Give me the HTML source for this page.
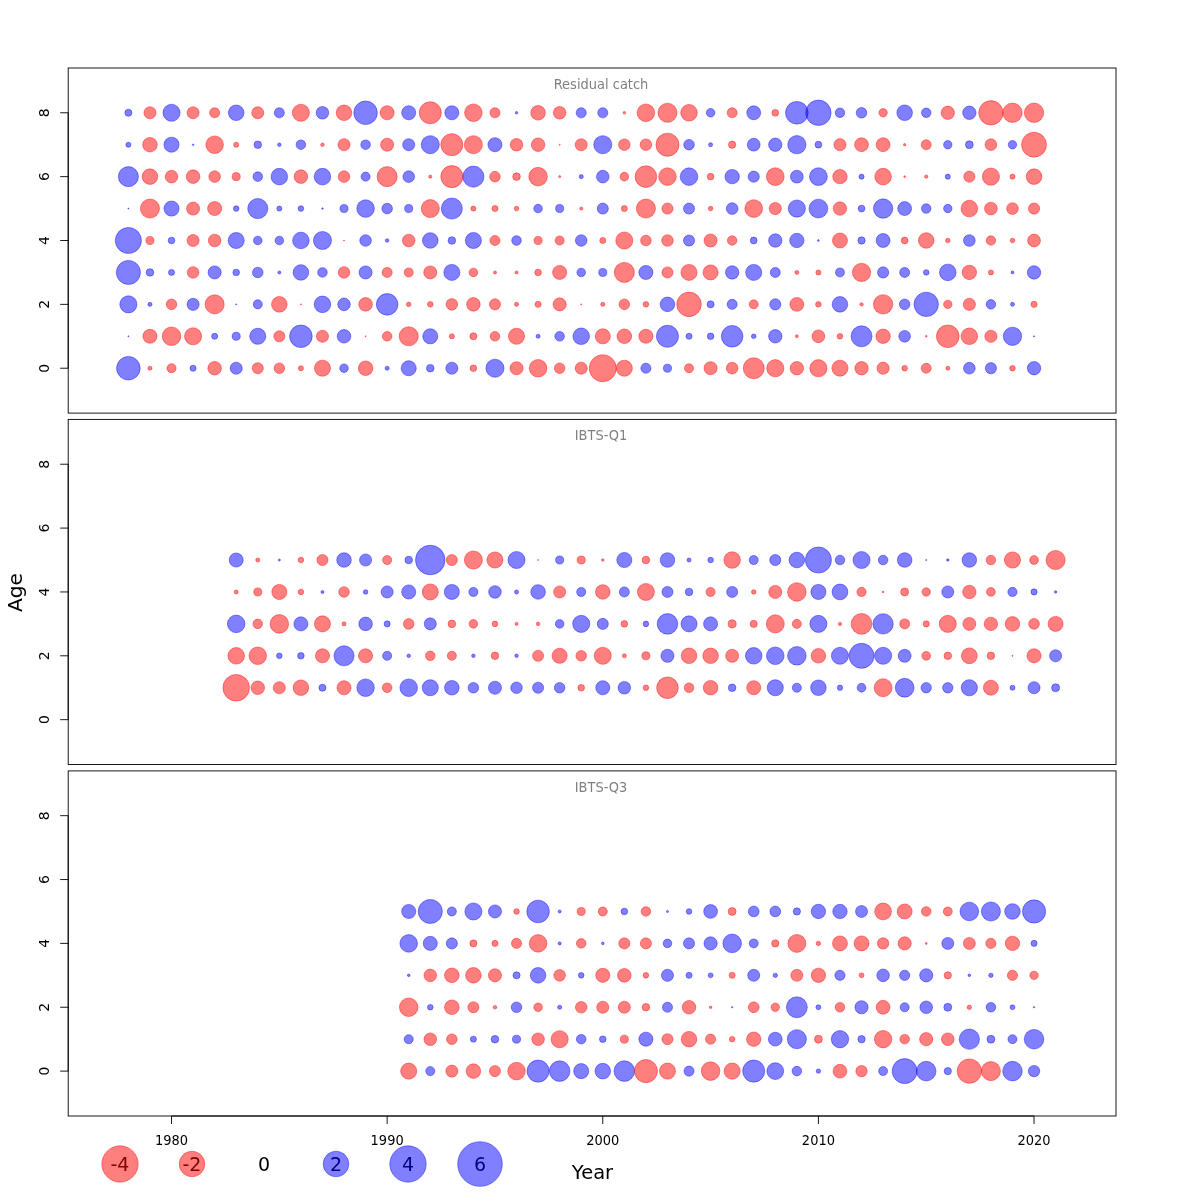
<!DOCTYPE html><html><head><meta charset="utf-8"><title>Residual bubble plot</title><style>html,body{margin:0;padding:0;background:#fff;}svg{display:block;}text{font-family:"DejaVu Sans","Liberation Sans",sans-serif;}</style></head><body>
<svg width="1200" height="1200" viewBox="0 0 1200 1200">
<style>.r{fill:rgba(255,0,0,0.5);stroke:rgba(255,0,0,0.5);stroke-width:0.8}.b{fill:rgba(0,0,255,0.5);stroke:rgba(0,0,255,0.5);stroke-width:0.8}</style>
<rect width="1200" height="1200" fill="#fff"/>
<rect x="68.2" y="68.0" width="1047.8" height="345.1" fill="none" stroke="#000" stroke-width="0.9"/>
<line x1="68.2" y1="112.78" x2="68.2" y2="368.22" stroke="#000" stroke-width="0.9"/>
<line x1="60.2" y1="368.22" x2="68.2" y2="368.22" stroke="#000" stroke-width="0.9"/>
<text transform="translate(49.2,368.22) rotate(-90)" text-anchor="middle" font-size="14">0</text>
<line x1="60.2" y1="304.36" x2="68.2" y2="304.36" stroke="#000" stroke-width="0.9"/>
<text transform="translate(49.2,304.36) rotate(-90)" text-anchor="middle" font-size="14">2</text>
<line x1="60.2" y1="240.50" x2="68.2" y2="240.50" stroke="#000" stroke-width="0.9"/>
<text transform="translate(49.2,240.50) rotate(-90)" text-anchor="middle" font-size="14">4</text>
<line x1="60.2" y1="176.64" x2="68.2" y2="176.64" stroke="#000" stroke-width="0.9"/>
<text transform="translate(49.2,176.64) rotate(-90)" text-anchor="middle" font-size="14">6</text>
<line x1="60.2" y1="112.78" x2="68.2" y2="112.78" stroke="#000" stroke-width="0.9"/>
<text transform="translate(49.2,112.78) rotate(-90)" text-anchor="middle" font-size="14">8</text>
<text transform="translate(601,89.0) scale(0.95,1)" text-anchor="middle" font-size="13.7" fill="#808080">Residual catch</text>
<circle class="b" cx="128.39" cy="112.78" r="3.55"/>
<circle class="r" cx="149.96" cy="112.78" r="6.05"/>
<circle class="b" cx="171.52" cy="112.78" r="8.55"/>
<circle class="r" cx="193.08" cy="112.78" r="6.05"/>
<circle class="r" cx="214.65" cy="112.78" r="5.05"/>
<circle class="b" cx="236.21" cy="112.78" r="7.80"/>
<circle class="r" cx="257.77" cy="112.78" r="6.05"/>
<circle class="b" cx="279.34" cy="112.78" r="5.05"/>
<circle class="r" cx="300.90" cy="112.78" r="8.55"/>
<circle class="b" cx="322.46" cy="112.78" r="6.30"/>
<circle class="r" cx="344.02" cy="112.78" r="7.80"/>
<circle class="b" cx="365.59" cy="112.78" r="11.80"/>
<circle class="r" cx="387.15" cy="112.78" r="7.05"/>
<circle class="b" cx="408.71" cy="112.78" r="7.05"/>
<circle class="r" cx="430.28" cy="112.78" r="11.05"/>
<circle class="b" cx="451.84" cy="112.78" r="7.05"/>
<circle class="r" cx="473.40" cy="112.78" r="8.80"/>
<circle class="r" cx="494.97" cy="112.78" r="5.05"/>
<circle class="b" cx="516.53" cy="112.78" r="1.30"/>
<circle class="r" cx="538.09" cy="112.78" r="7.30"/>
<circle class="r" cx="559.65" cy="112.78" r="6.30"/>
<circle class="b" cx="581.22" cy="112.78" r="5.05"/>
<circle class="b" cx="602.78" cy="112.78" r="5.05"/>
<circle class="r" cx="624.34" cy="112.78" r="1.30"/>
<circle class="r" cx="645.91" cy="112.78" r="8.80"/>
<circle class="r" cx="667.47" cy="112.78" r="9.55"/>
<circle class="r" cx="689.03" cy="112.78" r="8.30"/>
<circle class="b" cx="710.59" cy="112.78" r="4.30"/>
<circle class="r" cx="732.16" cy="112.78" r="5.00"/>
<circle class="b" cx="753.72" cy="112.78" r="6.95"/>
<circle class="r" cx="775.28" cy="112.78" r="3.40"/>
<circle class="b" cx="796.85" cy="112.78" r="11.35"/>
<circle class="b" cx="818.41" cy="112.78" r="12.70"/>
<circle class="b" cx="839.97" cy="112.78" r="4.75"/>
<circle class="b" cx="861.54" cy="112.78" r="5.30"/>
<circle class="r" cx="883.10" cy="112.78" r="4.20"/>
<circle class="b" cx="904.66" cy="112.78" r="7.80"/>
<circle class="b" cx="926.22" cy="112.78" r="4.75"/>
<circle class="r" cx="947.79" cy="112.78" r="6.70"/>
<circle class="b" cx="969.35" cy="112.78" r="6.70"/>
<circle class="r" cx="990.91" cy="112.78" r="12.20"/>
<circle class="r" cx="1012.48" cy="112.78" r="9.70"/>
<circle class="r" cx="1034.04" cy="112.78" r="9.70"/>
<circle class="b" cx="128.39" cy="144.71" r="2.55"/>
<circle class="r" cx="149.96" cy="144.71" r="7.30"/>
<circle class="b" cx="171.52" cy="144.71" r="7.55"/>
<circle class="b" cx="193.08" cy="144.71" r="0.80"/>
<circle class="r" cx="214.65" cy="144.71" r="8.80"/>
<circle class="r" cx="236.21" cy="144.71" r="2.55"/>
<circle class="b" cx="257.77" cy="144.71" r="3.80"/>
<circle class="b" cx="279.34" cy="144.71" r="1.80"/>
<circle class="b" cx="300.90" cy="144.71" r="4.80"/>
<circle class="r" cx="322.46" cy="144.71" r="1.80"/>
<circle class="r" cx="344.02" cy="144.71" r="6.05"/>
<circle class="b" cx="365.59" cy="144.71" r="4.80"/>
<circle class="r" cx="387.15" cy="144.71" r="6.55"/>
<circle class="b" cx="408.71" cy="144.71" r="6.05"/>
<circle class="b" cx="430.28" cy="144.71" r="9.05"/>
<circle class="r" cx="451.84" cy="144.71" r="11.05"/>
<circle class="r" cx="473.40" cy="144.71" r="9.05"/>
<circle class="b" cx="494.97" cy="144.71" r="7.05"/>
<circle class="r" cx="516.53" cy="144.71" r="6.30"/>
<circle class="r" cx="538.09" cy="144.71" r="6.80"/>
<circle class="r" cx="559.65" cy="144.71" r="0.55"/>
<circle class="r" cx="581.22" cy="144.71" r="6.05"/>
<circle class="b" cx="602.78" cy="144.71" r="9.05"/>
<circle class="r" cx="624.34" cy="144.71" r="5.80"/>
<circle class="r" cx="645.91" cy="144.71" r="5.80"/>
<circle class="r" cx="667.47" cy="144.71" r="11.55"/>
<circle class="b" cx="689.03" cy="144.71" r="5.30"/>
<circle class="b" cx="710.59" cy="144.71" r="2.05"/>
<circle class="r" cx="732.16" cy="144.71" r="3.65"/>
<circle class="b" cx="753.72" cy="144.71" r="6.40"/>
<circle class="b" cx="775.28" cy="144.71" r="6.70"/>
<circle class="b" cx="796.85" cy="144.71" r="9.15"/>
<circle class="b" cx="818.41" cy="144.71" r="3.40"/>
<circle class="r" cx="839.97" cy="144.71" r="6.10"/>
<circle class="r" cx="861.54" cy="144.71" r="6.95"/>
<circle class="r" cx="883.10" cy="144.71" r="6.95"/>
<circle class="r" cx="904.66" cy="144.71" r="1.20"/>
<circle class="r" cx="926.22" cy="144.71" r="5.00"/>
<circle class="b" cx="947.79" cy="144.71" r="4.20"/>
<circle class="b" cx="969.35" cy="144.71" r="3.90"/>
<circle class="r" cx="990.91" cy="144.71" r="5.85"/>
<circle class="b" cx="1012.48" cy="144.71" r="4.20"/>
<circle class="r" cx="1034.04" cy="144.71" r="12.45"/>
<circle class="b" cx="128.39" cy="176.64" r="10.05"/>
<circle class="r" cx="149.96" cy="176.64" r="7.80"/>
<circle class="r" cx="171.52" cy="176.64" r="6.30"/>
<circle class="r" cx="193.08" cy="176.64" r="6.80"/>
<circle class="r" cx="214.65" cy="176.64" r="5.80"/>
<circle class="r" cx="236.21" cy="176.64" r="4.05"/>
<circle class="b" cx="257.77" cy="176.64" r="4.80"/>
<circle class="b" cx="279.34" cy="176.64" r="8.30"/>
<circle class="r" cx="300.90" cy="176.64" r="6.80"/>
<circle class="b" cx="322.46" cy="176.64" r="8.30"/>
<circle class="r" cx="344.02" cy="176.64" r="5.80"/>
<circle class="b" cx="365.59" cy="176.64" r="4.55"/>
<circle class="r" cx="387.15" cy="176.64" r="10.05"/>
<circle class="b" cx="408.71" cy="176.64" r="5.80"/>
<circle class="r" cx="430.28" cy="176.64" r="1.55"/>
<circle class="r" cx="451.84" cy="176.64" r="11.05"/>
<circle class="b" cx="473.40" cy="176.64" r="10.55"/>
<circle class="r" cx="494.97" cy="176.64" r="5.30"/>
<circle class="r" cx="516.53" cy="176.64" r="3.80"/>
<circle class="r" cx="538.09" cy="176.64" r="9.30"/>
<circle class="r" cx="559.65" cy="176.64" r="1.05"/>
<circle class="b" cx="581.22" cy="176.64" r="2.05"/>
<circle class="b" cx="602.78" cy="176.64" r="6.30"/>
<circle class="r" cx="624.34" cy="176.64" r="4.30"/>
<circle class="r" cx="645.91" cy="176.64" r="10.80"/>
<circle class="r" cx="667.47" cy="176.64" r="8.80"/>
<circle class="b" cx="689.03" cy="176.64" r="8.80"/>
<circle class="r" cx="710.59" cy="176.64" r="3.30"/>
<circle class="b" cx="732.16" cy="176.64" r="7.20"/>
<circle class="b" cx="753.72" cy="176.64" r="5.60"/>
<circle class="r" cx="775.28" cy="176.64" r="8.90"/>
<circle class="b" cx="796.85" cy="176.64" r="6.40"/>
<circle class="b" cx="818.41" cy="176.64" r="8.90"/>
<circle class="r" cx="839.97" cy="176.64" r="7.20"/>
<circle class="b" cx="861.54" cy="176.64" r="2.55"/>
<circle class="r" cx="883.10" cy="176.64" r="8.30"/>
<circle class="r" cx="904.66" cy="176.64" r="0.90"/>
<circle class="r" cx="926.22" cy="176.64" r="1.70"/>
<circle class="b" cx="947.79" cy="176.64" r="2.55"/>
<circle class="r" cx="969.35" cy="176.64" r="5.60"/>
<circle class="r" cx="990.91" cy="176.64" r="8.60"/>
<circle class="r" cx="1012.48" cy="176.64" r="2.55"/>
<circle class="r" cx="1034.04" cy="176.64" r="7.80"/>
<circle class="b" cx="128.39" cy="208.57" r="0.55"/>
<circle class="r" cx="149.96" cy="208.57" r="9.55"/>
<circle class="b" cx="171.52" cy="208.57" r="7.55"/>
<circle class="r" cx="193.08" cy="208.57" r="6.55"/>
<circle class="r" cx="214.65" cy="208.57" r="7.05"/>
<circle class="b" cx="236.21" cy="208.57" r="2.80"/>
<circle class="b" cx="257.77" cy="208.57" r="10.05"/>
<circle class="b" cx="279.34" cy="208.57" r="2.55"/>
<circle class="b" cx="300.90" cy="208.57" r="2.80"/>
<circle class="b" cx="322.46" cy="208.57" r="0.80"/>
<circle class="b" cx="344.02" cy="208.57" r="4.05"/>
<circle class="b" cx="365.59" cy="208.57" r="8.80"/>
<circle class="b" cx="387.15" cy="208.57" r="5.30"/>
<circle class="b" cx="408.71" cy="208.57" r="4.05"/>
<circle class="r" cx="430.28" cy="208.57" r="9.05"/>
<circle class="b" cx="451.84" cy="208.57" r="10.55"/>
<circle class="r" cx="473.40" cy="208.57" r="2.55"/>
<circle class="r" cx="494.97" cy="208.57" r="3.05"/>
<circle class="r" cx="516.53" cy="208.57" r="2.30"/>
<circle class="b" cx="538.09" cy="208.57" r="4.30"/>
<circle class="b" cx="559.65" cy="208.57" r="4.05"/>
<circle class="r" cx="581.22" cy="208.57" r="1.55"/>
<circle class="b" cx="602.78" cy="208.57" r="5.55"/>
<circle class="r" cx="624.34" cy="208.57" r="3.05"/>
<circle class="r" cx="645.91" cy="208.57" r="9.55"/>
<circle class="r" cx="667.47" cy="208.57" r="5.55"/>
<circle class="b" cx="689.03" cy="208.57" r="5.55"/>
<circle class="r" cx="710.59" cy="208.57" r="2.30"/>
<circle class="b" cx="732.16" cy="208.57" r="5.85"/>
<circle class="r" cx="753.72" cy="208.57" r="8.90"/>
<circle class="r" cx="775.28" cy="208.57" r="6.10"/>
<circle class="b" cx="796.85" cy="208.57" r="8.60"/>
<circle class="b" cx="818.41" cy="208.57" r="9.40"/>
<circle class="r" cx="839.97" cy="208.57" r="6.70"/>
<circle class="b" cx="861.54" cy="208.57" r="3.40"/>
<circle class="b" cx="883.10" cy="208.57" r="9.70"/>
<circle class="b" cx="904.66" cy="208.57" r="6.95"/>
<circle class="b" cx="926.22" cy="208.57" r="4.75"/>
<circle class="b" cx="947.79" cy="208.57" r="4.20"/>
<circle class="r" cx="969.35" cy="208.57" r="8.30"/>
<circle class="r" cx="990.91" cy="208.57" r="6.40"/>
<circle class="r" cx="1012.48" cy="208.57" r="5.85"/>
<circle class="r" cx="1034.04" cy="208.57" r="5.60"/>
<circle class="b" cx="128.39" cy="240.50" r="13.05"/>
<circle class="r" cx="149.96" cy="240.50" r="4.05"/>
<circle class="b" cx="171.52" cy="240.50" r="3.30"/>
<circle class="r" cx="193.08" cy="240.50" r="6.05"/>
<circle class="r" cx="214.65" cy="240.50" r="6.30"/>
<circle class="b" cx="236.21" cy="240.50" r="8.05"/>
<circle class="b" cx="257.77" cy="240.50" r="4.30"/>
<circle class="b" cx="279.34" cy="240.50" r="4.30"/>
<circle class="b" cx="300.90" cy="240.50" r="8.30"/>
<circle class="b" cx="322.46" cy="240.50" r="9.05"/>
<circle class="r" cx="344.02" cy="240.50" r="0.55"/>
<circle class="b" cx="365.59" cy="240.50" r="5.80"/>
<circle class="b" cx="387.15" cy="240.50" r="1.80"/>
<circle class="r" cx="408.71" cy="240.50" r="6.30"/>
<circle class="b" cx="430.28" cy="240.50" r="7.80"/>
<circle class="b" cx="451.84" cy="240.50" r="3.80"/>
<circle class="b" cx="473.40" cy="240.50" r="8.05"/>
<circle class="r" cx="494.97" cy="240.50" r="5.05"/>
<circle class="b" cx="516.53" cy="240.50" r="4.80"/>
<circle class="r" cx="538.09" cy="240.50" r="4.05"/>
<circle class="r" cx="559.65" cy="240.50" r="4.55"/>
<circle class="b" cx="581.22" cy="240.50" r="5.80"/>
<circle class="r" cx="602.78" cy="240.50" r="3.05"/>
<circle class="r" cx="624.34" cy="240.50" r="8.55"/>
<circle class="r" cx="645.91" cy="240.50" r="5.30"/>
<circle class="r" cx="667.47" cy="240.50" r="5.80"/>
<circle class="b" cx="689.03" cy="240.50" r="5.55"/>
<circle class="r" cx="710.59" cy="240.50" r="6.55"/>
<circle class="r" cx="732.16" cy="240.50" r="4.75"/>
<circle class="b" cx="753.72" cy="240.50" r="3.40"/>
<circle class="b" cx="775.28" cy="240.50" r="6.70"/>
<circle class="b" cx="796.85" cy="240.50" r="7.20"/>
<circle class="b" cx="818.41" cy="240.50" r="0.90"/>
<circle class="r" cx="839.97" cy="240.50" r="7.50"/>
<circle class="b" cx="861.54" cy="240.50" r="3.65"/>
<circle class="b" cx="883.10" cy="240.50" r="6.95"/>
<circle class="r" cx="904.66" cy="240.50" r="3.40"/>
<circle class="r" cx="926.22" cy="240.50" r="7.80"/>
<circle class="r" cx="947.79" cy="240.50" r="2.30"/>
<circle class="b" cx="969.35" cy="240.50" r="5.85"/>
<circle class="r" cx="990.91" cy="240.50" r="4.75"/>
<circle class="r" cx="1012.48" cy="240.50" r="2.30"/>
<circle class="r" cx="1034.04" cy="240.50" r="6.40"/>
<circle class="b" cx="128.39" cy="272.43" r="12.05"/>
<circle class="b" cx="149.96" cy="272.43" r="3.80"/>
<circle class="b" cx="171.52" cy="272.43" r="3.05"/>
<circle class="r" cx="193.08" cy="272.43" r="5.80"/>
<circle class="b" cx="214.65" cy="272.43" r="6.55"/>
<circle class="b" cx="236.21" cy="272.43" r="3.30"/>
<circle class="b" cx="257.77" cy="272.43" r="5.30"/>
<circle class="b" cx="279.34" cy="272.43" r="1.55"/>
<circle class="b" cx="300.90" cy="272.43" r="7.80"/>
<circle class="b" cx="322.46" cy="272.43" r="4.80"/>
<circle class="r" cx="344.02" cy="272.43" r="5.80"/>
<circle class="b" cx="365.59" cy="272.43" r="6.55"/>
<circle class="r" cx="387.15" cy="272.43" r="5.05"/>
<circle class="r" cx="408.71" cy="272.43" r="4.55"/>
<circle class="r" cx="430.28" cy="272.43" r="6.55"/>
<circle class="b" cx="451.84" cy="272.43" r="8.05"/>
<circle class="r" cx="473.40" cy="272.43" r="4.30"/>
<circle class="r" cx="494.97" cy="272.43" r="1.55"/>
<circle class="r" cx="516.53" cy="272.43" r="1.55"/>
<circle class="r" cx="538.09" cy="272.43" r="3.30"/>
<circle class="r" cx="559.65" cy="272.43" r="7.05"/>
<circle class="b" cx="581.22" cy="272.43" r="4.30"/>
<circle class="b" cx="602.78" cy="272.43" r="4.05"/>
<circle class="r" cx="624.34" cy="272.43" r="10.05"/>
<circle class="b" cx="645.91" cy="272.43" r="7.05"/>
<circle class="r" cx="667.47" cy="272.43" r="5.55"/>
<circle class="r" cx="689.03" cy="272.43" r="8.05"/>
<circle class="r" cx="710.59" cy="272.43" r="7.55"/>
<circle class="b" cx="732.16" cy="272.43" r="6.70"/>
<circle class="b" cx="753.72" cy="272.43" r="8.05"/>
<circle class="b" cx="775.28" cy="272.43" r="5.00"/>
<circle class="r" cx="796.85" cy="272.43" r="2.00"/>
<circle class="r" cx="818.41" cy="272.43" r="2.55"/>
<circle class="b" cx="839.97" cy="272.43" r="4.50"/>
<circle class="r" cx="861.54" cy="272.43" r="9.15"/>
<circle class="b" cx="883.10" cy="272.43" r="5.60"/>
<circle class="b" cx="904.66" cy="272.43" r="5.00"/>
<circle class="b" cx="926.22" cy="272.43" r="2.80"/>
<circle class="b" cx="947.79" cy="272.43" r="8.30"/>
<circle class="r" cx="969.35" cy="272.43" r="7.20"/>
<circle class="r" cx="990.91" cy="272.43" r="2.55"/>
<circle class="b" cx="1012.48" cy="272.43" r="1.45"/>
<circle class="b" cx="1034.04" cy="272.43" r="6.70"/>
<circle class="b" cx="128.39" cy="304.36" r="8.55"/>
<circle class="b" cx="149.96" cy="304.36" r="2.05"/>
<circle class="r" cx="171.52" cy="304.36" r="5.30"/>
<circle class="b" cx="193.08" cy="304.36" r="6.05"/>
<circle class="r" cx="214.65" cy="304.36" r="9.55"/>
<circle class="b" cx="236.21" cy="304.36" r="0.55"/>
<circle class="b" cx="257.77" cy="304.36" r="4.55"/>
<circle class="r" cx="279.34" cy="304.36" r="7.80"/>
<circle class="r" cx="300.90" cy="304.36" r="0.55"/>
<circle class="b" cx="322.46" cy="304.36" r="8.30"/>
<circle class="b" cx="344.02" cy="304.36" r="6.30"/>
<circle class="r" cx="365.59" cy="304.36" r="6.80"/>
<circle class="b" cx="387.15" cy="304.36" r="10.80"/>
<circle class="r" cx="408.71" cy="304.36" r="2.30"/>
<circle class="r" cx="430.28" cy="304.36" r="2.80"/>
<circle class="r" cx="451.84" cy="304.36" r="5.80"/>
<circle class="r" cx="473.40" cy="304.36" r="6.80"/>
<circle class="r" cx="494.97" cy="304.36" r="5.55"/>
<circle class="r" cx="516.53" cy="304.36" r="2.05"/>
<circle class="r" cx="538.09" cy="304.36" r="3.05"/>
<circle class="r" cx="559.65" cy="304.36" r="6.55"/>
<circle class="r" cx="581.22" cy="304.36" r="0.55"/>
<circle class="r" cx="602.78" cy="304.36" r="2.05"/>
<circle class="r" cx="624.34" cy="304.36" r="5.30"/>
<circle class="r" cx="645.91" cy="304.36" r="2.80"/>
<circle class="b" cx="667.47" cy="304.36" r="7.30"/>
<circle class="r" cx="689.03" cy="304.36" r="12.30"/>
<circle class="b" cx="710.59" cy="304.36" r="3.55"/>
<circle class="b" cx="732.16" cy="304.36" r="5.00"/>
<circle class="r" cx="753.72" cy="304.36" r="4.50"/>
<circle class="b" cx="775.28" cy="304.36" r="5.60"/>
<circle class="r" cx="796.85" cy="304.36" r="6.95"/>
<circle class="r" cx="818.41" cy="304.36" r="2.80"/>
<circle class="b" cx="839.97" cy="304.36" r="7.80"/>
<circle class="r" cx="861.54" cy="304.36" r="1.70"/>
<circle class="r" cx="883.10" cy="304.36" r="9.70"/>
<circle class="b" cx="904.66" cy="304.36" r="5.30"/>
<circle class="b" cx="926.22" cy="304.36" r="12.20"/>
<circle class="r" cx="947.79" cy="304.36" r="4.20"/>
<circle class="r" cx="969.35" cy="304.36" r="6.10"/>
<circle class="b" cx="990.91" cy="304.36" r="4.75"/>
<circle class="b" cx="1012.48" cy="304.36" r="2.00"/>
<circle class="r" cx="1034.04" cy="304.36" r="3.10"/>
<circle class="b" cx="128.39" cy="336.29" r="0.55"/>
<circle class="r" cx="149.96" cy="336.29" r="7.05"/>
<circle class="r" cx="171.52" cy="336.29" r="9.30"/>
<circle class="r" cx="193.08" cy="336.29" r="8.55"/>
<circle class="b" cx="214.65" cy="336.29" r="3.05"/>
<circle class="b" cx="236.21" cy="336.29" r="4.05"/>
<circle class="b" cx="257.77" cy="336.29" r="8.05"/>
<circle class="r" cx="279.34" cy="336.29" r="5.55"/>
<circle class="b" cx="300.90" cy="336.29" r="11.30"/>
<circle class="r" cx="322.46" cy="336.29" r="6.05"/>
<circle class="b" cx="344.02" cy="336.29" r="6.80"/>
<circle class="r" cx="365.59" cy="336.29" r="0.55"/>
<circle class="r" cx="387.15" cy="336.29" r="4.80"/>
<circle class="r" cx="408.71" cy="336.29" r="9.55"/>
<circle class="b" cx="430.28" cy="336.29" r="7.55"/>
<circle class="r" cx="451.84" cy="336.29" r="2.55"/>
<circle class="r" cx="473.40" cy="336.29" r="3.55"/>
<circle class="r" cx="494.97" cy="336.29" r="4.80"/>
<circle class="r" cx="516.53" cy="336.29" r="8.05"/>
<circle class="b" cx="538.09" cy="336.29" r="2.05"/>
<circle class="b" cx="559.65" cy="336.29" r="4.80"/>
<circle class="b" cx="581.22" cy="336.29" r="8.30"/>
<circle class="r" cx="602.78" cy="336.29" r="7.55"/>
<circle class="r" cx="624.34" cy="336.29" r="7.30"/>
<circle class="r" cx="645.91" cy="336.29" r="7.05"/>
<circle class="b" cx="667.47" cy="336.29" r="11.05"/>
<circle class="b" cx="689.03" cy="336.29" r="3.05"/>
<circle class="b" cx="710.59" cy="336.29" r="3.30"/>
<circle class="b" cx="732.16" cy="336.29" r="10.80"/>
<circle class="b" cx="753.72" cy="336.29" r="2.30"/>
<circle class="b" cx="775.28" cy="336.29" r="6.70"/>
<circle class="r" cx="796.85" cy="336.29" r="1.45"/>
<circle class="r" cx="818.41" cy="336.29" r="6.40"/>
<circle class="r" cx="839.97" cy="336.29" r="2.80"/>
<circle class="b" cx="861.54" cy="336.29" r="10.50"/>
<circle class="r" cx="883.10" cy="336.29" r="7.20"/>
<circle class="b" cx="904.66" cy="336.29" r="5.85"/>
<circle class="r" cx="926.22" cy="336.29" r="0.90"/>
<circle class="r" cx="947.79" cy="336.29" r="11.35"/>
<circle class="r" cx="969.35" cy="336.29" r="8.30"/>
<circle class="r" cx="990.91" cy="336.29" r="6.10"/>
<circle class="b" cx="1012.48" cy="336.29" r="9.15"/>
<circle class="b" cx="1034.04" cy="336.29" r="0.60"/>
<circle class="b" cx="128.39" cy="368.22" r="11.80"/>
<circle class="r" cx="149.96" cy="368.22" r="2.05"/>
<circle class="r" cx="171.52" cy="368.22" r="4.55"/>
<circle class="b" cx="193.08" cy="368.22" r="3.05"/>
<circle class="r" cx="214.65" cy="368.22" r="6.80"/>
<circle class="b" cx="236.21" cy="368.22" r="6.05"/>
<circle class="r" cx="257.77" cy="368.22" r="5.55"/>
<circle class="r" cx="279.34" cy="368.22" r="5.30"/>
<circle class="r" cx="300.90" cy="368.22" r="2.55"/>
<circle class="r" cx="322.46" cy="368.22" r="8.05"/>
<circle class="b" cx="344.02" cy="368.22" r="4.30"/>
<circle class="r" cx="365.59" cy="368.22" r="7.30"/>
<circle class="b" cx="387.15" cy="368.22" r="2.05"/>
<circle class="b" cx="408.71" cy="368.22" r="7.55"/>
<circle class="b" cx="430.28" cy="368.22" r="3.80"/>
<circle class="b" cx="451.84" cy="368.22" r="6.05"/>
<circle class="r" cx="473.40" cy="368.22" r="3.30"/>
<circle class="b" cx="494.97" cy="368.22" r="9.05"/>
<circle class="r" cx="516.53" cy="368.22" r="6.55"/>
<circle class="r" cx="538.09" cy="368.22" r="8.80"/>
<circle class="r" cx="559.65" cy="368.22" r="5.30"/>
<circle class="r" cx="581.22" cy="368.22" r="6.05"/>
<circle class="r" cx="602.78" cy="368.22" r="13.55"/>
<circle class="r" cx="624.34" cy="368.22" r="8.05"/>
<circle class="b" cx="645.91" cy="368.22" r="5.05"/>
<circle class="b" cx="667.47" cy="368.22" r="4.05"/>
<circle class="r" cx="689.03" cy="368.22" r="4.55"/>
<circle class="r" cx="710.59" cy="368.22" r="6.55"/>
<circle class="r" cx="732.16" cy="368.22" r="5.85"/>
<circle class="r" cx="753.72" cy="368.22" r="10.50"/>
<circle class="r" cx="775.28" cy="368.22" r="8.60"/>
<circle class="r" cx="796.85" cy="368.22" r="6.70"/>
<circle class="r" cx="818.41" cy="368.22" r="8.60"/>
<circle class="r" cx="839.97" cy="368.22" r="8.05"/>
<circle class="r" cx="861.54" cy="368.22" r="6.70"/>
<circle class="r" cx="883.10" cy="368.22" r="6.10"/>
<circle class="r" cx="904.66" cy="368.22" r="2.80"/>
<circle class="r" cx="926.22" cy="368.22" r="5.00"/>
<circle class="r" cx="947.79" cy="368.22" r="2.00"/>
<circle class="b" cx="969.35" cy="368.22" r="5.85"/>
<circle class="b" cx="990.91" cy="368.22" r="5.60"/>
<circle class="r" cx="1012.48" cy="368.22" r="2.80"/>
<circle class="b" cx="1034.04" cy="368.22" r="6.70"/>
<rect x="68.2" y="419.4" width="1047.8" height="345.1" fill="none" stroke="#000" stroke-width="0.9"/>
<line x1="68.2" y1="464.23" x2="68.2" y2="719.67" stroke="#000" stroke-width="0.9"/>
<line x1="60.2" y1="719.67" x2="68.2" y2="719.67" stroke="#000" stroke-width="0.9"/>
<text transform="translate(49.2,719.67) rotate(-90)" text-anchor="middle" font-size="14">0</text>
<line x1="60.2" y1="655.81" x2="68.2" y2="655.81" stroke="#000" stroke-width="0.9"/>
<text transform="translate(49.2,655.81) rotate(-90)" text-anchor="middle" font-size="14">2</text>
<line x1="60.2" y1="591.95" x2="68.2" y2="591.95" stroke="#000" stroke-width="0.9"/>
<text transform="translate(49.2,591.95) rotate(-90)" text-anchor="middle" font-size="14">4</text>
<line x1="60.2" y1="528.09" x2="68.2" y2="528.09" stroke="#000" stroke-width="0.9"/>
<text transform="translate(49.2,528.09) rotate(-90)" text-anchor="middle" font-size="14">6</text>
<line x1="60.2" y1="464.23" x2="68.2" y2="464.23" stroke="#000" stroke-width="0.9"/>
<text transform="translate(49.2,464.23) rotate(-90)" text-anchor="middle" font-size="14">8</text>
<text transform="translate(601,440.4) scale(0.95,1)" text-anchor="middle" font-size="13.7" fill="#808080">IBTS-Q1</text>
<circle class="b" cx="236.21" cy="560.02" r="7.05"/>
<circle class="r" cx="257.77" cy="560.02" r="2.05"/>
<circle class="b" cx="279.34" cy="560.02" r="1.05"/>
<circle class="r" cx="300.90" cy="560.02" r="2.80"/>
<circle class="r" cx="322.46" cy="560.02" r="5.55"/>
<circle class="b" cx="344.02" cy="560.02" r="7.30"/>
<circle class="b" cx="365.59" cy="560.02" r="6.05"/>
<circle class="r" cx="387.15" cy="560.02" r="4.55"/>
<circle class="b" cx="408.71" cy="560.02" r="3.80"/>
<circle class="b" cx="430.28" cy="560.02" r="14.80"/>
<circle class="r" cx="451.84" cy="560.02" r="5.55"/>
<circle class="r" cx="473.40" cy="560.02" r="9.05"/>
<circle class="r" cx="494.97" cy="560.02" r="8.05"/>
<circle class="b" cx="516.53" cy="560.02" r="8.55"/>
<circle class="r" cx="538.09" cy="560.02" r="0.55"/>
<circle class="b" cx="559.65" cy="560.02" r="4.05"/>
<circle class="r" cx="581.22" cy="560.02" r="4.05"/>
<circle class="r" cx="602.78" cy="560.02" r="1.30"/>
<circle class="b" cx="624.34" cy="560.02" r="7.55"/>
<circle class="r" cx="645.91" cy="560.02" r="3.80"/>
<circle class="b" cx="667.47" cy="560.02" r="7.30"/>
<circle class="b" cx="689.03" cy="560.02" r="2.05"/>
<circle class="b" cx="710.59" cy="560.02" r="2.80"/>
<circle class="r" cx="732.16" cy="560.02" r="8.30"/>
<circle class="b" cx="753.72" cy="560.02" r="4.55"/>
<circle class="b" cx="775.28" cy="560.02" r="5.55"/>
<circle class="b" cx="796.85" cy="560.02" r="7.80"/>
<circle class="b" cx="818.41" cy="560.02" r="13.05"/>
<circle class="b" cx="839.97" cy="560.02" r="4.80"/>
<circle class="b" cx="861.54" cy="560.02" r="8.55"/>
<circle class="b" cx="883.10" cy="560.02" r="4.80"/>
<circle class="b" cx="904.66" cy="560.02" r="7.30"/>
<circle class="b" cx="926.22" cy="560.02" r="0.60"/>
<circle class="b" cx="947.79" cy="560.02" r="1.25"/>
<circle class="b" cx="969.35" cy="560.02" r="7.30"/>
<circle class="r" cx="990.91" cy="560.02" r="4.80"/>
<circle class="r" cx="1012.48" cy="560.02" r="8.10"/>
<circle class="r" cx="1034.04" cy="560.02" r="4.40"/>
<circle class="r" cx="1055.60" cy="560.02" r="9.60"/>
<circle class="r" cx="236.21" cy="591.95" r="2.05"/>
<circle class="r" cx="257.77" cy="591.95" r="4.05"/>
<circle class="r" cx="279.34" cy="591.95" r="7.55"/>
<circle class="r" cx="300.90" cy="591.95" r="2.80"/>
<circle class="b" cx="322.46" cy="591.95" r="1.55"/>
<circle class="r" cx="344.02" cy="591.95" r="5.30"/>
<circle class="b" cx="365.59" cy="591.95" r="2.30"/>
<circle class="b" cx="387.15" cy="591.95" r="6.05"/>
<circle class="b" cx="408.71" cy="591.95" r="7.05"/>
<circle class="r" cx="430.28" cy="591.95" r="8.05"/>
<circle class="b" cx="451.84" cy="591.95" r="7.55"/>
<circle class="b" cx="473.40" cy="591.95" r="4.55"/>
<circle class="b" cx="494.97" cy="591.95" r="6.30"/>
<circle class="b" cx="516.53" cy="591.95" r="2.05"/>
<circle class="b" cx="538.09" cy="591.95" r="7.30"/>
<circle class="r" cx="559.65" cy="591.95" r="6.05"/>
<circle class="b" cx="581.22" cy="591.95" r="4.55"/>
<circle class="r" cx="602.78" cy="591.95" r="7.30"/>
<circle class="b" cx="624.34" cy="591.95" r="5.05"/>
<circle class="r" cx="645.91" cy="591.95" r="8.55"/>
<circle class="b" cx="667.47" cy="591.95" r="5.55"/>
<circle class="b" cx="689.03" cy="591.95" r="3.80"/>
<circle class="r" cx="710.59" cy="591.95" r="4.55"/>
<circle class="b" cx="732.16" cy="591.95" r="5.55"/>
<circle class="r" cx="753.72" cy="591.95" r="2.30"/>
<circle class="r" cx="775.28" cy="591.95" r="6.55"/>
<circle class="r" cx="796.85" cy="591.95" r="9.30"/>
<circle class="b" cx="818.41" cy="591.95" r="7.55"/>
<circle class="b" cx="839.97" cy="591.95" r="7.90"/>
<circle class="r" cx="861.54" cy="591.95" r="4.60"/>
<circle class="r" cx="883.10" cy="591.95" r="0.85"/>
<circle class="r" cx="904.66" cy="591.95" r="4.00"/>
<circle class="r" cx="926.22" cy="591.95" r="4.20"/>
<circle class="b" cx="947.79" cy="591.95" r="6.05"/>
<circle class="r" cx="969.35" cy="591.95" r="6.70"/>
<circle class="r" cx="990.91" cy="591.95" r="4.40"/>
<circle class="b" cx="1012.48" cy="591.95" r="4.60"/>
<circle class="b" cx="1034.04" cy="591.95" r="3.10"/>
<circle class="b" cx="1055.60" cy="591.95" r="1.25"/>
<circle class="b" cx="236.21" cy="623.88" r="8.80"/>
<circle class="r" cx="257.77" cy="623.88" r="4.80"/>
<circle class="r" cx="279.34" cy="623.88" r="9.30"/>
<circle class="b" cx="300.90" cy="623.88" r="7.05"/>
<circle class="r" cx="322.46" cy="623.88" r="8.05"/>
<circle class="r" cx="344.02" cy="623.88" r="2.05"/>
<circle class="b" cx="365.59" cy="623.88" r="6.80"/>
<circle class="b" cx="387.15" cy="623.88" r="3.05"/>
<circle class="r" cx="408.71" cy="623.88" r="5.30"/>
<circle class="b" cx="430.28" cy="623.88" r="6.05"/>
<circle class="r" cx="451.84" cy="623.88" r="3.80"/>
<circle class="r" cx="473.40" cy="623.88" r="4.30"/>
<circle class="r" cx="494.97" cy="623.88" r="2.80"/>
<circle class="r" cx="516.53" cy="623.88" r="1.55"/>
<circle class="r" cx="538.09" cy="623.88" r="1.80"/>
<circle class="b" cx="559.65" cy="623.88" r="4.30"/>
<circle class="b" cx="581.22" cy="623.88" r="8.55"/>
<circle class="b" cx="602.78" cy="623.88" r="5.55"/>
<circle class="r" cx="624.34" cy="623.88" r="3.30"/>
<circle class="b" cx="645.91" cy="623.88" r="2.80"/>
<circle class="b" cx="667.47" cy="623.88" r="10.30"/>
<circle class="b" cx="689.03" cy="623.88" r="8.05"/>
<circle class="b" cx="710.59" cy="623.88" r="7.05"/>
<circle class="r" cx="732.16" cy="623.88" r="4.05"/>
<circle class="r" cx="753.72" cy="623.88" r="3.55"/>
<circle class="r" cx="775.28" cy="623.88" r="9.05"/>
<circle class="r" cx="796.85" cy="623.88" r="4.55"/>
<circle class="b" cx="818.41" cy="623.88" r="8.55"/>
<circle class="r" cx="839.97" cy="623.88" r="1.70"/>
<circle class="r" cx="861.54" cy="623.88" r="10.40"/>
<circle class="b" cx="883.10" cy="623.88" r="10.20"/>
<circle class="r" cx="904.66" cy="623.88" r="5.00"/>
<circle class="r" cx="926.22" cy="623.88" r="3.10"/>
<circle class="r" cx="947.79" cy="623.88" r="8.55"/>
<circle class="r" cx="969.35" cy="623.88" r="6.50"/>
<circle class="r" cx="990.91" cy="623.88" r="6.70"/>
<circle class="r" cx="1012.48" cy="623.88" r="7.30"/>
<circle class="r" cx="1034.04" cy="623.88" r="5.40"/>
<circle class="r" cx="1055.60" cy="623.88" r="7.50"/>
<circle class="r" cx="236.21" cy="655.81" r="8.30"/>
<circle class="r" cx="257.77" cy="655.81" r="8.80"/>
<circle class="b" cx="279.34" cy="655.81" r="2.80"/>
<circle class="b" cx="300.90" cy="655.81" r="3.30"/>
<circle class="r" cx="322.46" cy="655.81" r="7.05"/>
<circle class="b" cx="344.02" cy="655.81" r="10.05"/>
<circle class="r" cx="365.59" cy="655.81" r="7.05"/>
<circle class="b" cx="387.15" cy="655.81" r="4.55"/>
<circle class="b" cx="408.71" cy="655.81" r="1.80"/>
<circle class="r" cx="430.28" cy="655.81" r="4.80"/>
<circle class="r" cx="451.84" cy="655.81" r="4.55"/>
<circle class="b" cx="473.40" cy="655.81" r="1.80"/>
<circle class="r" cx="494.97" cy="655.81" r="3.80"/>
<circle class="b" cx="516.53" cy="655.81" r="1.80"/>
<circle class="r" cx="538.09" cy="655.81" r="5.55"/>
<circle class="r" cx="559.65" cy="655.81" r="7.55"/>
<circle class="r" cx="581.22" cy="655.81" r="5.30"/>
<circle class="r" cx="602.78" cy="655.81" r="8.55"/>
<circle class="r" cx="624.34" cy="655.81" r="2.05"/>
<circle class="r" cx="645.91" cy="655.81" r="4.05"/>
<circle class="b" cx="667.47" cy="655.81" r="6.55"/>
<circle class="r" cx="689.03" cy="655.81" r="7.80"/>
<circle class="r" cx="710.59" cy="655.81" r="7.80"/>
<circle class="r" cx="732.16" cy="655.81" r="6.55"/>
<circle class="b" cx="753.72" cy="655.81" r="8.30"/>
<circle class="b" cx="775.28" cy="655.81" r="8.80"/>
<circle class="b" cx="796.85" cy="655.81" r="9.30"/>
<circle class="r" cx="818.41" cy="655.81" r="7.30"/>
<circle class="b" cx="839.97" cy="655.81" r="8.55"/>
<circle class="b" cx="861.54" cy="655.81" r="12.50"/>
<circle class="b" cx="883.10" cy="655.81" r="8.55"/>
<circle class="b" cx="904.66" cy="655.81" r="6.50"/>
<circle class="r" cx="926.22" cy="655.81" r="4.40"/>
<circle class="r" cx="947.79" cy="655.81" r="3.80"/>
<circle class="r" cx="969.35" cy="655.81" r="7.90"/>
<circle class="r" cx="990.91" cy="655.81" r="3.80"/>
<circle class="r" cx="1012.48" cy="655.81" r="0.60"/>
<circle class="r" cx="1034.04" cy="655.81" r="7.10"/>
<circle class="b" cx="1055.60" cy="655.81" r="6.05"/>
<circle class="r" cx="236.21" cy="687.74" r="13.30"/>
<circle class="r" cx="257.77" cy="687.74" r="6.80"/>
<circle class="r" cx="279.34" cy="687.74" r="6.05"/>
<circle class="r" cx="300.90" cy="687.74" r="7.80"/>
<circle class="b" cx="322.46" cy="687.74" r="3.55"/>
<circle class="r" cx="344.02" cy="687.74" r="7.05"/>
<circle class="b" cx="365.59" cy="687.74" r="8.80"/>
<circle class="r" cx="387.15" cy="687.74" r="4.80"/>
<circle class="b" cx="408.71" cy="687.74" r="8.80"/>
<circle class="b" cx="430.28" cy="687.74" r="8.05"/>
<circle class="b" cx="451.84" cy="687.74" r="7.30"/>
<circle class="b" cx="473.40" cy="687.74" r="5.30"/>
<circle class="b" cx="494.97" cy="687.74" r="6.55"/>
<circle class="b" cx="516.53" cy="687.74" r="5.80"/>
<circle class="b" cx="538.09" cy="687.74" r="5.55"/>
<circle class="b" cx="559.65" cy="687.74" r="5.30"/>
<circle class="r" cx="581.22" cy="687.74" r="3.30"/>
<circle class="b" cx="602.78" cy="687.74" r="7.05"/>
<circle class="b" cx="624.34" cy="687.74" r="6.30"/>
<circle class="r" cx="645.91" cy="687.74" r="2.80"/>
<circle class="r" cx="667.47" cy="687.74" r="10.80"/>
<circle class="r" cx="689.03" cy="687.74" r="4.80"/>
<circle class="r" cx="710.59" cy="687.74" r="7.30"/>
<circle class="b" cx="732.16" cy="687.74" r="3.80"/>
<circle class="r" cx="753.72" cy="687.74" r="7.05"/>
<circle class="b" cx="775.28" cy="687.74" r="8.05"/>
<circle class="b" cx="796.85" cy="687.74" r="4.55"/>
<circle class="b" cx="818.41" cy="687.74" r="7.80"/>
<circle class="b" cx="839.97" cy="687.74" r="2.70"/>
<circle class="b" cx="861.54" cy="687.74" r="4.40"/>
<circle class="r" cx="883.10" cy="687.74" r="9.00"/>
<circle class="b" cx="904.66" cy="687.74" r="9.40"/>
<circle class="b" cx="926.22" cy="687.74" r="5.20"/>
<circle class="b" cx="947.79" cy="687.74" r="5.20"/>
<circle class="b" cx="969.35" cy="687.74" r="8.10"/>
<circle class="r" cx="990.91" cy="687.74" r="7.50"/>
<circle class="b" cx="1012.48" cy="687.74" r="2.50"/>
<circle class="b" cx="1034.04" cy="687.74" r="6.05"/>
<circle class="b" cx="1055.60" cy="687.74" r="4.00"/>
<rect x="68.2" y="770.9" width="1047.8" height="345.1" fill="none" stroke="#000" stroke-width="0.9"/>
<line x1="68.2" y1="815.68" x2="68.2" y2="1071.12" stroke="#000" stroke-width="0.9"/>
<line x1="60.2" y1="1071.12" x2="68.2" y2="1071.12" stroke="#000" stroke-width="0.9"/>
<text transform="translate(49.2,1071.12) rotate(-90)" text-anchor="middle" font-size="14">0</text>
<line x1="60.2" y1="1007.26" x2="68.2" y2="1007.26" stroke="#000" stroke-width="0.9"/>
<text transform="translate(49.2,1007.26) rotate(-90)" text-anchor="middle" font-size="14">2</text>
<line x1="60.2" y1="943.40" x2="68.2" y2="943.40" stroke="#000" stroke-width="0.9"/>
<text transform="translate(49.2,943.40) rotate(-90)" text-anchor="middle" font-size="14">4</text>
<line x1="60.2" y1="879.54" x2="68.2" y2="879.54" stroke="#000" stroke-width="0.9"/>
<text transform="translate(49.2,879.54) rotate(-90)" text-anchor="middle" font-size="14">6</text>
<line x1="60.2" y1="815.68" x2="68.2" y2="815.68" stroke="#000" stroke-width="0.9"/>
<text transform="translate(49.2,815.68) rotate(-90)" text-anchor="middle" font-size="14">8</text>
<text transform="translate(601,791.9) scale(0.95,1)" text-anchor="middle" font-size="13.7" fill="#808080">IBTS-Q3</text>
<circle class="b" cx="408.71" cy="911.47" r="7.05"/>
<circle class="b" cx="430.28" cy="911.47" r="12.05"/>
<circle class="b" cx="451.84" cy="911.47" r="4.55"/>
<circle class="b" cx="473.40" cy="911.47" r="8.55"/>
<circle class="b" cx="494.97" cy="911.47" r="6.55"/>
<circle class="r" cx="516.53" cy="911.47" r="2.80"/>
<circle class="b" cx="538.09" cy="911.47" r="11.30"/>
<circle class="b" cx="559.65" cy="911.47" r="1.55"/>
<circle class="r" cx="581.22" cy="911.47" r="4.05"/>
<circle class="r" cx="602.78" cy="911.47" r="4.55"/>
<circle class="b" cx="624.34" cy="911.47" r="3.30"/>
<circle class="r" cx="645.91" cy="911.47" r="4.80"/>
<circle class="b" cx="667.47" cy="911.47" r="1.05"/>
<circle class="b" cx="689.03" cy="911.47" r="2.80"/>
<circle class="b" cx="710.59" cy="911.47" r="6.90"/>
<circle class="r" cx="732.16" cy="911.47" r="3.95"/>
<circle class="b" cx="753.72" cy="911.47" r="5.40"/>
<circle class="b" cx="775.28" cy="911.47" r="5.40"/>
<circle class="b" cx="796.85" cy="911.47" r="3.65"/>
<circle class="b" cx="818.41" cy="911.47" r="7.20"/>
<circle class="b" cx="839.97" cy="911.47" r="7.20"/>
<circle class="b" cx="861.54" cy="911.47" r="6.00"/>
<circle class="r" cx="883.10" cy="911.47" r="8.40"/>
<circle class="r" cx="904.66" cy="911.47" r="7.50"/>
<circle class="r" cx="926.22" cy="911.47" r="4.80"/>
<circle class="r" cx="947.79" cy="911.47" r="4.50"/>
<circle class="b" cx="969.35" cy="911.47" r="9.30"/>
<circle class="b" cx="990.91" cy="911.47" r="9.55"/>
<circle class="b" cx="1012.48" cy="911.47" r="7.80"/>
<circle class="b" cx="1034.04" cy="911.47" r="11.60"/>
<circle class="b" cx="408.71" cy="943.40" r="8.80"/>
<circle class="b" cx="430.28" cy="943.40" r="7.05"/>
<circle class="b" cx="451.84" cy="943.40" r="5.55"/>
<circle class="r" cx="473.40" cy="943.40" r="3.55"/>
<circle class="r" cx="494.97" cy="943.40" r="3.05"/>
<circle class="r" cx="516.53" cy="943.40" r="5.05"/>
<circle class="r" cx="538.09" cy="943.40" r="8.80"/>
<circle class="b" cx="559.65" cy="943.40" r="1.55"/>
<circle class="r" cx="581.22" cy="943.40" r="4.80"/>
<circle class="b" cx="602.78" cy="943.40" r="1.30"/>
<circle class="r" cx="624.34" cy="943.40" r="5.55"/>
<circle class="r" cx="645.91" cy="943.40" r="5.55"/>
<circle class="b" cx="667.47" cy="943.40" r="4.30"/>
<circle class="b" cx="689.03" cy="943.40" r="5.55"/>
<circle class="b" cx="710.59" cy="943.40" r="6.60"/>
<circle class="b" cx="732.16" cy="943.40" r="9.30"/>
<circle class="b" cx="753.72" cy="943.40" r="4.50"/>
<circle class="r" cx="775.28" cy="943.40" r="3.65"/>
<circle class="r" cx="796.85" cy="943.40" r="9.00"/>
<circle class="r" cx="818.41" cy="943.40" r="2.20"/>
<circle class="r" cx="839.97" cy="943.40" r="7.50"/>
<circle class="r" cx="861.54" cy="943.40" r="7.50"/>
<circle class="r" cx="883.10" cy="943.40" r="5.70"/>
<circle class="r" cx="904.66" cy="943.40" r="6.60"/>
<circle class="r" cx="926.22" cy="943.40" r="1.00"/>
<circle class="b" cx="947.79" cy="943.40" r="6.00"/>
<circle class="r" cx="969.35" cy="943.40" r="6.00"/>
<circle class="r" cx="990.91" cy="943.40" r="5.10"/>
<circle class="r" cx="1012.48" cy="943.40" r="7.20"/>
<circle class="b" cx="1034.04" cy="943.40" r="3.05"/>
<circle class="b" cx="408.71" cy="975.33" r="1.30"/>
<circle class="r" cx="430.28" cy="975.33" r="6.30"/>
<circle class="r" cx="451.84" cy="975.33" r="7.30"/>
<circle class="r" cx="473.40" cy="975.33" r="7.80"/>
<circle class="r" cx="494.97" cy="975.33" r="6.55"/>
<circle class="b" cx="516.53" cy="975.33" r="3.55"/>
<circle class="b" cx="538.09" cy="975.33" r="7.80"/>
<circle class="r" cx="559.65" cy="975.33" r="5.80"/>
<circle class="b" cx="581.22" cy="975.33" r="2.80"/>
<circle class="r" cx="602.78" cy="975.33" r="7.05"/>
<circle class="r" cx="624.34" cy="975.33" r="6.80"/>
<circle class="r" cx="645.91" cy="975.33" r="2.80"/>
<circle class="b" cx="667.47" cy="975.33" r="6.05"/>
<circle class="b" cx="689.03" cy="975.33" r="3.05"/>
<circle class="b" cx="710.59" cy="975.33" r="2.45"/>
<circle class="r" cx="732.16" cy="975.33" r="3.05"/>
<circle class="b" cx="753.72" cy="975.33" r="6.00"/>
<circle class="b" cx="775.28" cy="975.33" r="2.20"/>
<circle class="r" cx="796.85" cy="975.33" r="6.00"/>
<circle class="r" cx="818.41" cy="975.33" r="7.20"/>
<circle class="b" cx="839.97" cy="975.33" r="5.10"/>
<circle class="r" cx="861.54" cy="975.33" r="2.45"/>
<circle class="b" cx="883.10" cy="975.33" r="6.30"/>
<circle class="b" cx="904.66" cy="975.33" r="5.10"/>
<circle class="b" cx="926.22" cy="975.33" r="6.60"/>
<circle class="r" cx="947.79" cy="975.33" r="3.65"/>
<circle class="b" cx="969.35" cy="975.33" r="1.30"/>
<circle class="b" cx="990.91" cy="975.33" r="2.20"/>
<circle class="r" cx="1012.48" cy="975.33" r="5.10"/>
<circle class="r" cx="1034.04" cy="975.33" r="4.20"/>
<circle class="r" cx="408.71" cy="1007.26" r="9.30"/>
<circle class="b" cx="430.28" cy="1007.26" r="2.80"/>
<circle class="r" cx="451.84" cy="1007.26" r="7.30"/>
<circle class="r" cx="473.40" cy="1007.26" r="5.55"/>
<circle class="r" cx="494.97" cy="1007.26" r="1.80"/>
<circle class="b" cx="516.53" cy="1007.26" r="5.30"/>
<circle class="r" cx="538.09" cy="1007.26" r="4.30"/>
<circle class="b" cx="559.65" cy="1007.26" r="2.05"/>
<circle class="r" cx="581.22" cy="1007.26" r="5.80"/>
<circle class="r" cx="602.78" cy="1007.26" r="6.05"/>
<circle class="r" cx="624.34" cy="1007.26" r="6.05"/>
<circle class="r" cx="645.91" cy="1007.26" r="3.80"/>
<circle class="b" cx="667.47" cy="1007.26" r="5.05"/>
<circle class="r" cx="689.03" cy="1007.26" r="6.80"/>
<circle class="r" cx="710.59" cy="1007.26" r="1.30"/>
<circle class="b" cx="732.16" cy="1007.26" r="0.70"/>
<circle class="r" cx="753.72" cy="1007.26" r="5.40"/>
<circle class="r" cx="775.28" cy="1007.26" r="4.20"/>
<circle class="b" cx="796.85" cy="1007.26" r="10.45"/>
<circle class="b" cx="818.41" cy="1007.26" r="2.45"/>
<circle class="r" cx="839.97" cy="1007.26" r="4.80"/>
<circle class="b" cx="861.54" cy="1007.26" r="6.60"/>
<circle class="r" cx="883.10" cy="1007.26" r="6.90"/>
<circle class="b" cx="904.66" cy="1007.26" r="4.50"/>
<circle class="b" cx="926.22" cy="1007.26" r="6.30"/>
<circle class="b" cx="947.79" cy="1007.26" r="3.95"/>
<circle class="r" cx="969.35" cy="1007.26" r="2.20"/>
<circle class="b" cx="990.91" cy="1007.26" r="4.80"/>
<circle class="b" cx="1012.48" cy="1007.26" r="2.45"/>
<circle class="b" cx="1034.04" cy="1007.26" r="0.70"/>
<circle class="b" cx="408.71" cy="1039.19" r="4.55"/>
<circle class="r" cx="430.28" cy="1039.19" r="6.30"/>
<circle class="r" cx="451.84" cy="1039.19" r="5.30"/>
<circle class="b" cx="473.40" cy="1039.19" r="3.05"/>
<circle class="b" cx="494.97" cy="1039.19" r="3.80"/>
<circle class="b" cx="516.53" cy="1039.19" r="4.05"/>
<circle class="r" cx="538.09" cy="1039.19" r="6.30"/>
<circle class="r" cx="559.65" cy="1039.19" r="8.55"/>
<circle class="b" cx="581.22" cy="1039.19" r="4.80"/>
<circle class="b" cx="602.78" cy="1039.19" r="3.30"/>
<circle class="r" cx="624.34" cy="1039.19" r="4.05"/>
<circle class="b" cx="645.91" cy="1039.19" r="7.05"/>
<circle class="r" cx="667.47" cy="1039.19" r="5.55"/>
<circle class="r" cx="689.03" cy="1039.19" r="7.80"/>
<circle class="r" cx="710.59" cy="1039.19" r="5.10"/>
<circle class="r" cx="732.16" cy="1039.19" r="2.75"/>
<circle class="r" cx="753.72" cy="1039.19" r="7.20"/>
<circle class="b" cx="775.28" cy="1039.19" r="6.90"/>
<circle class="b" cx="796.85" cy="1039.19" r="9.55"/>
<circle class="r" cx="818.41" cy="1039.19" r="3.95"/>
<circle class="b" cx="839.97" cy="1039.19" r="8.70"/>
<circle class="b" cx="861.54" cy="1039.19" r="3.65"/>
<circle class="r" cx="883.10" cy="1039.19" r="8.70"/>
<circle class="r" cx="904.66" cy="1039.19" r="4.80"/>
<circle class="r" cx="926.22" cy="1039.19" r="6.60"/>
<circle class="r" cx="947.79" cy="1039.19" r="6.30"/>
<circle class="b" cx="969.35" cy="1039.19" r="10.15"/>
<circle class="b" cx="990.91" cy="1039.19" r="3.95"/>
<circle class="b" cx="1012.48" cy="1039.19" r="4.50"/>
<circle class="b" cx="1034.04" cy="1039.19" r="9.80"/>
<circle class="r" cx="408.71" cy="1071.12" r="8.05"/>
<circle class="b" cx="430.28" cy="1071.12" r="4.55"/>
<circle class="r" cx="451.84" cy="1071.12" r="6.05"/>
<circle class="r" cx="473.40" cy="1071.12" r="7.30"/>
<circle class="r" cx="494.97" cy="1071.12" r="5.55"/>
<circle class="r" cx="516.53" cy="1071.12" r="8.80"/>
<circle class="b" cx="538.09" cy="1071.12" r="11.05"/>
<circle class="b" cx="559.65" cy="1071.12" r="10.30"/>
<circle class="b" cx="581.22" cy="1071.12" r="7.55"/>
<circle class="b" cx="602.78" cy="1071.12" r="7.80"/>
<circle class="b" cx="624.34" cy="1071.12" r="10.30"/>
<circle class="r" cx="645.91" cy="1071.12" r="11.55"/>
<circle class="r" cx="667.47" cy="1071.12" r="8.05"/>
<circle class="b" cx="689.03" cy="1071.12" r="5.05"/>
<circle class="r" cx="710.59" cy="1071.12" r="9.30"/>
<circle class="r" cx="732.16" cy="1071.12" r="8.10"/>
<circle class="b" cx="753.72" cy="1071.12" r="11.05"/>
<circle class="b" cx="775.28" cy="1071.12" r="8.40"/>
<circle class="b" cx="796.85" cy="1071.12" r="4.80"/>
<circle class="b" cx="818.41" cy="1071.12" r="2.20"/>
<circle class="r" cx="839.97" cy="1071.12" r="6.90"/>
<circle class="r" cx="861.54" cy="1071.12" r="5.70"/>
<circle class="b" cx="883.10" cy="1071.12" r="4.50"/>
<circle class="b" cx="904.66" cy="1071.12" r="12.50"/>
<circle class="b" cx="926.22" cy="1071.12" r="9.80"/>
<circle class="b" cx="947.79" cy="1071.12" r="3.65"/>
<circle class="r" cx="969.35" cy="1071.12" r="12.20"/>
<circle class="r" cx="990.91" cy="1071.12" r="9.55"/>
<circle class="b" cx="1012.48" cy="1071.12" r="9.80"/>
<circle class="b" cx="1034.04" cy="1071.12" r="5.70"/>
<line x1="171.52" y1="1116.00" x2="1034.04" y2="1116.00" stroke="#000" stroke-width="0.9"/>
<line x1="171.52" y1="1116.00" x2="171.52" y2="1124.00" stroke="#000" stroke-width="0.9"/>
<text transform="translate(171.52,1145) scale(0.95,1)" text-anchor="middle" font-size="13.7">1980</text>
<line x1="387.15" y1="1116.00" x2="387.15" y2="1124.00" stroke="#000" stroke-width="0.9"/>
<text transform="translate(387.15,1145) scale(0.95,1)" text-anchor="middle" font-size="13.7">1990</text>
<line x1="602.78" y1="1116.00" x2="602.78" y2="1124.00" stroke="#000" stroke-width="0.9"/>
<text transform="translate(602.78,1145) scale(0.95,1)" text-anchor="middle" font-size="13.7">2000</text>
<line x1="818.41" y1="1116.00" x2="818.41" y2="1124.00" stroke="#000" stroke-width="0.9"/>
<text transform="translate(818.41,1145) scale(0.95,1)" text-anchor="middle" font-size="13.7">2010</text>
<line x1="1034.04" y1="1116.00" x2="1034.04" y2="1124.00" stroke="#000" stroke-width="0.9"/>
<text transform="translate(1034.04,1145) scale(0.95,1)" text-anchor="middle" font-size="13.7">2020</text>
<text x="592.5" y="1178.5" text-anchor="middle" font-size="19.5">Year</text>
<text transform="translate(21.75,592.6) rotate(-90)" text-anchor="middle" font-size="20.2">Age</text>
<text x="120" y="1171" text-anchor="middle" font-size="19">-4</text>
<text x="192" y="1171" text-anchor="middle" font-size="19">-2</text>
<text x="264" y="1171" text-anchor="middle" font-size="19">0</text>
<text x="336" y="1171" text-anchor="middle" font-size="19">2</text>
<text x="408" y="1171" text-anchor="middle" font-size="19">4</text>
<text x="480" y="1171" text-anchor="middle" font-size="19">6</text>
<circle class="r" cx="120" cy="1164" r="18.20"/>
<circle class="r" cx="192" cy="1164" r="12.81"/>
<circle class="b" cx="336" cy="1164" r="12.81"/>
<circle class="b" cx="408" cy="1164" r="18.20"/>
<circle class="b" cx="480" cy="1164" r="22.34"/>
</svg></body></html>
